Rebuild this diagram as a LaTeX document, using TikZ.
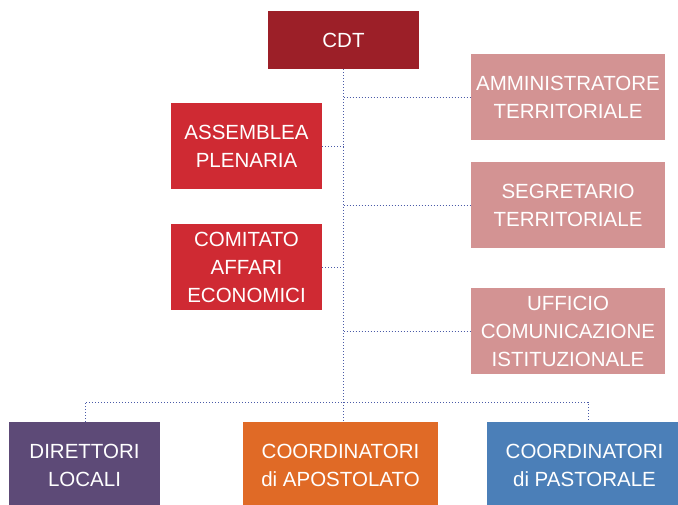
\documentclass[tikz,border=0pt]{standalone}
\usepackage{fontspec}
\setmainfont{Liberation Sans}
\definecolor{cdtred}{HTML}{9C1F28}
\definecolor{boxred}{HTML}{CF2A33}
\definecolor{boxpink}{HTML}{D39393}
\definecolor{boxpurple}{HTML}{5D4A77}
\definecolor{boxorange}{HTML}{E06A26}
\definecolor{boxblue}{HTML}{4B7FB8}
\definecolor{linkblue}{HTML}{4B5BA8}
\begin{document}
\begin{tikzpicture}[x=1pt,y=-1pt,
  orgbox/.style={fill=#1, text=white, inner sep=0pt, align=center,
    font=\fontsize{20.5}{28}\selectfont},
  link/.style={draw=linkblue, line width=0.9pt, dash pattern=on 1pt off 2pt}]
  \clip (0,0) rectangle (678,504);
  % top
  \node[orgbox=cdtred, minimum width=151pt, minimum height=58pt] (cdt) at (343.5,40) {CDT};
  % staff offices on the right
  \node[orgbox=boxpink, minimum width=194pt, minimum height=86pt] (amm) at (568,97) {AMMINISTRATORE\\TERRITORIALE};
  \node[orgbox=boxpink, minimum width=194pt, minimum height=86pt] (seg) at (568,205) {SEGRETARIO\\TERRITORIALE};
  \node[orgbox=boxpink, minimum width=194pt, minimum height=86pt] (uff) at (568,331) {UFFICIO\\COMUNICAZIONE\\ISTITUZIONALE};
  % councils on the left
  \node[orgbox=boxred, minimum width=151pt, minimum height=86pt] (ass) at (246.5,146) {ASSEMBLEA\\PLENARIA};
  \node[orgbox=boxred, minimum width=151pt, minimum height=86pt] (com) at (246.5,267) {COMITATO\\AFFARI\\ECONOMICI};
  % lower level
  \node[orgbox=boxpurple, minimum width=151pt, minimum height=86pt] (dir) at (84.5,465) {DIRETTORI\\LOCALI};
  \node[orgbox=boxorange, minimum width=195pt, minimum height=86pt] (apo) at (340.5,465) {COORDINATORI\\di APOSTOLATO};
  \node[orgbox=boxblue, minimum width=195pt, minimum height=86pt] (pas) at (584.5,465) {COORDINATORI\\di PASTORALE};
  % connectors
  \coordinate (bar) at (343,402);
  \draw[link] (cdt.south) -- (cdt.south |- apo.north);
  \draw[link] (cdt.south |- amm.west) -- (amm.west);
  \draw[link] (cdt.south |- seg.west) -- (seg.west);
  \draw[link] (cdt.south |- uff.west) -- (uff.west);
  \draw[link] (cdt.south |- ass.east) -- (ass.east);
  \draw[link] (cdt.south |- com.east) -- (com.east);
  \draw[link] ([xshift=0.5pt]dir.north) |- (bar) -| ([xshift=3.5pt]pas.north);
\end{tikzpicture}
\end{document}
